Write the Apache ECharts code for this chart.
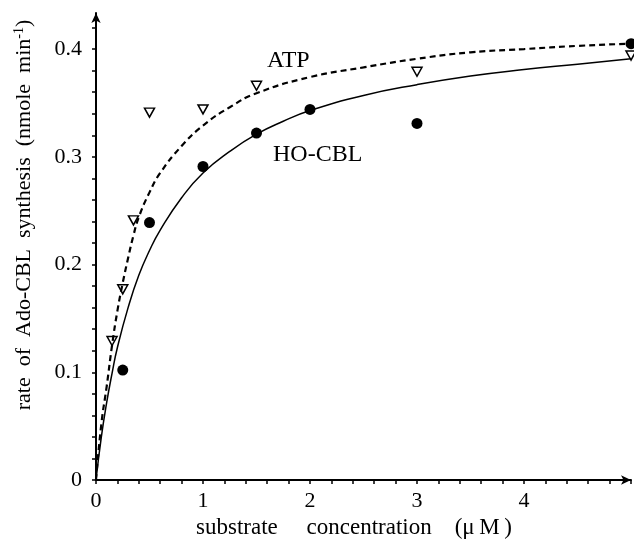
<!DOCTYPE html>
<html>
<head>
<meta charset="utf-8">
<script src="https://cdn.jsdelivr.net/npm/echarts@6/dist/echarts.min.js"></script>
<style>
html,body{margin:0;padding:0;background:#fff;}
#chart{width:634px;height:546px;}
</style>
</head>
<body>
<div id="chart"></div>
<script>
// ---- data ----
const hoX = [0.25, 0.5, 1.0, 1.5, 2.0, 3.0, 5.0];
const hoY = [0.102, 0.239, 0.291, 0.322, 0.344, 0.331, 0.405];

const atpX = [0.15, 0.25, 0.35, 0.5, 1.0, 1.5, 3.0, 5.0];
const atpY = [0.129, 0.177, 0.241, 0.341, 0.344, 0.366, 0.379, 0.394];

// fitted curves
const hoCurveX = [0, 0.05, 0.1, 0.15, 0.2, 0.3, 0.4, 0.5, 0.6, 0.8, 1.0, 1.25, 1.5, 1.75, 2.0, 2.5, 3.0, 3.5, 4.0, 4.5, 5.0];
const hoCurveY = [0, 0.040, 0.072, 0.099, 0.123, 0.160, 0.190, 0.213, 0.232, 0.262, 0.285, 0.305, 0.321, 0.333, 0.343, 0.357, 0.367, 0.375, 0.381, 0.386, 0.391];

const atpCurveX = [0, 0.05, 0.1, 0.15, 0.2, 0.25, 0.3, 0.35, 0.4, 0.5, 0.6, 0.8, 1.0, 1.25, 1.5, 2.0, 2.5, 3.0, 3.5, 4.0, 4.5, 5.0];
const atpCurveY = [0, 0.052, 0.087, 0.125, 0.157, 0.183, 0.206, 0.227, 0.244, 0.267, 0.285, 0.310, 0.329, 0.346, 0.359, 0.374, 0.383, 0.391, 0.397, 0.400, 0.403, 0.405];

const xTickLabels = ['0', '1', '2', '3', '4'];
const yTickLabels = ['0', '0.1', '0.2', '0.3', '0.4'];

const seriesNames = ['HO-CBL', 'ATP'];
const xTitle = 'substrate     concentration    (\u03bc\u2009M\u2009)';
const yTitle = 'rate  of  Ado-CBL  synthesis  (nmole  min{sup|-1})';

// ---- chart ----
const FONT = 'Liberation Serif';
const zip = (xs, ys) => xs.map((x, i) => [x, ys[i]]);

const chart = echarts.init(document.getElementById('chart'), null, {renderer: 'canvas'});

const option = {
  backgroundColor: '#ffffff',
  animation: false,
  grid: {left: 96, right: 0, top: 13, bottom: 66, containLabel: false},
  xAxis: {
    type: 'value',
    min: 0, max: 5, interval: 0.2,
    axisLine: {show: true, lineStyle: {color: '#000', width: 2}, symbol: ['none', 'arrow'], symbolSize: [7, 10]},
    axisTick: {show: true, inside: false, length: 4, lineStyle: {color: '#000', width: 1.5}},
    splitLine: {show: false},
    axisLabel: {
      color: '#000', fontFamily: FONT, fontSize: 22, margin: 10,
      formatter: v => {
        const i = Math.round(v);
        return (Math.abs(v - i) < 1e-6 && i < xTickLabels.length) ? xTickLabels[i] : '';
      }
    }
  },
  yAxis: {
    type: 'value',
    min: 0, max: 0.4335, interval: 0.02,
    axisLine: {show: true, lineStyle: {color: '#000', width: 2}, symbol: ['none', 'arrow'], symbolSize: [7, 10]},
    axisTick: {show: true, inside: false, length: 4, lineStyle: {color: '#000', width: 1.5}},
    splitLine: {show: false},
    axisLabel: {
      color: '#000', fontFamily: FONT, fontSize: 22, margin: 14,
      showMaxLabel: false,
      formatter: v => {
        const k = Math.round(v * 10);
        return (Math.abs(v * 10 - k) < 1e-6 && k < yTickLabels.length) ? yTickLabels[k] : '';
      }
    }
  },
  series: [
    {
      name: seriesNames[0] + ' fit', type: 'line', data: zip(hoCurveX, hoCurveY),
      showSymbol: false, smooth: 0.5, clip: false,
      lineStyle: {color: '#000', width: 1.5}
    },
    {
      name: seriesNames[1] + ' fit', type: 'line', data: zip(atpCurveX, atpCurveY),
      showSymbol: false, smooth: 0.5, clip: false,
      lineStyle: {color: '#000', width: 2.2, type: [6, 4]}
    },
    {
      name: seriesNames[0], type: 'scatter', data: zip(hoX, hoY),
      symbol: 'circle', symbolSize: 11, clip: false,
      itemStyle: {color: '#000', opacity: 1}
    },
    {
      name: seriesNames[1], type: 'scatter', data: zip(atpX, atpY),
      symbol: 'triangle', symbolSize: [10, 9], symbolRotate: 180, clip: false,
      itemStyle: {color: '#fff', borderColor: '#000', borderWidth: 1.5, opacity: 1}
    }
  ],
  graphic: [
    {
      type: 'text', x: 267, y: 61,
      style: {text: seriesNames[1], fontSize: 24, fontFamily: FONT, fill: '#000', align: 'left', verticalAlign: 'middle'}
    },
    {
      type: 'text', x: 273, y: 155,
      style: {text: seriesNames[0], fontSize: 24, fontFamily: FONT, fill: '#000', align: 'left', verticalAlign: 'middle'}
    },
    {
      type: 'text', x: 354, y: 528,
      style: {text: xTitle, fontSize: 23, fontFamily: FONT, fill: '#000', align: 'center', verticalAlign: 'middle'}
    },
    {
      type: 'text', x: 24, y: 215, rotation: Math.PI / 2,
      style: {
        text: yTitle,
        fontSize: 22, fontFamily: FONT, fill: '#000', align: 'center', verticalAlign: 'middle',
        rich: {sup: {fontSize: 14, fontFamily: FONT, fill: '#000', verticalAlign: 'top', padding: [0, 0, 10, 0]}}
      }
    }
  ]
};
chart.setOption(option);
</script>
</body>
</html>
